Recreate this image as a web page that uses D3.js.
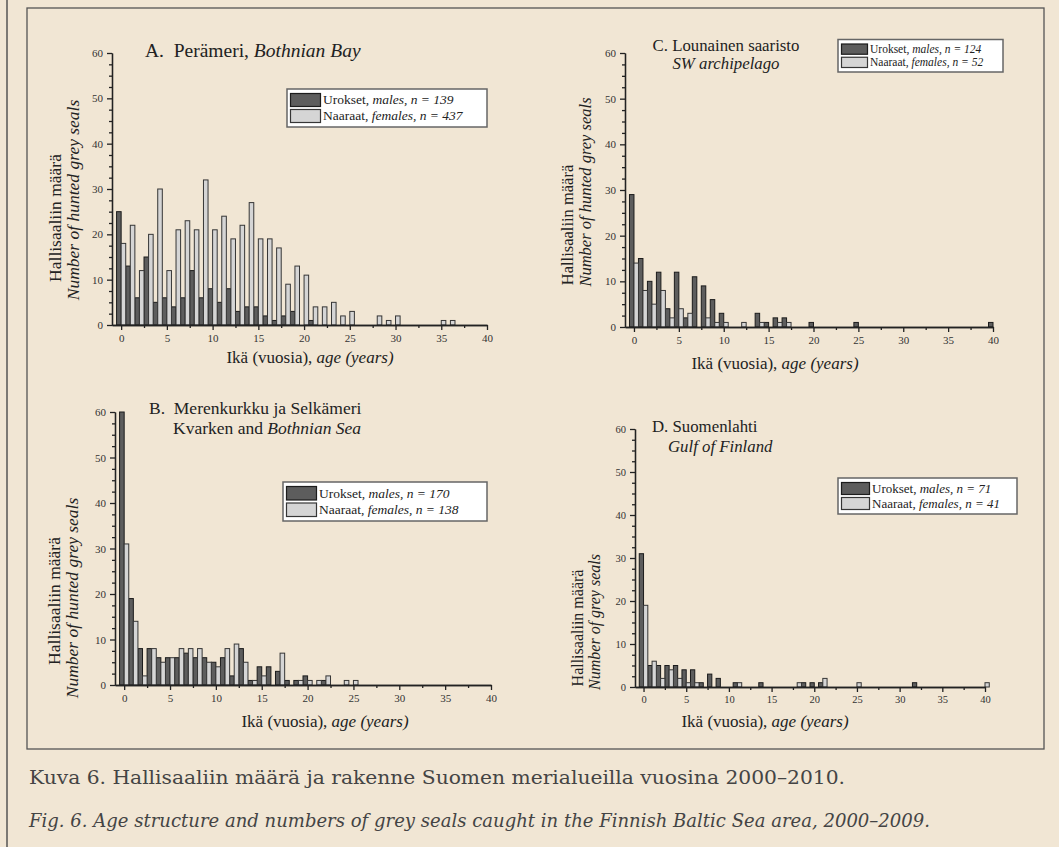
<!DOCTYPE html>
<html>
<head>
<meta charset="utf-8">
<script src="https://cdnjs.cloudflare.com/ajax/libs/d3/7.8.5/d3.min.js"></script>
<style>
  body { margin: 0; background: #f1e6d4; }
  svg { display: block; }
  text { font-family: "Liberation Serif", "Times New Roman", serif; fill: #222; white-space: pre; }
  .axis path, .axis line { stroke: #222; stroke-width: 1.3; }
  .axis text { font-family: "Liberation Serif", serif; fill: #333; }
</style>
</head>
<body>
<script>
'use strict';

// age classes 0..40 years
var ages = [0, 1, 2, 3, 4, 5, 6, 7, 8, 9, 10, 11, 12, 13, 14, 15, 16, 17, 18, 19, 20,
   21, 22, 23, 24, 25, 26, 27, 28, 29, 30, 31, 32, 33, 34, 35, 36, 37, 38, 39, 40];

// A. Perämeri
var malesA = [25, 13, 6, 15, 5, 6, 4, 6, 12, 6, 8, 5, 8, 3, 4, 4, 2, 1, 2, 3, 0,
   1, 0, 0, 0, 0, 0, 0, 0, 0, 0, 0, 0, 0, 0, 0, 0, 0, 0, 0, 0];
var femalesA = [18, 22, 12, 20, 30, 12, 21, 23, 21, 32, 21, 24, 19, 22, 27, 19, 19, 17, 9, 13, 11,
   4, 4, 5, 2, 3, 0, 0, 2, 1, 2, 0, 0, 0, 0, 1, 1, 0, 0, 0, 0];
// B. Merenkurkku ja Selkämeri
var malesB = [60, 19, 8, 8, 6, 6, 6, 7, 6, 6, 5, 6, 2, 8, 1, 4, 4, 3, 1, 1, 2,
   0, 1, 0, 0, 0, 0, 0, 0, 0, 0, 0, 0, 0, 0, 0, 0, 0, 0, 0, 0];
var femalesB = [31, 14, 2, 8, 5, 6, 8, 8, 8, 5, 4, 8, 9, 5, 1, 2, 0, 7, 0, 1, 1,
   1, 2, 0, 1, 1, 0, 0, 0, 0, 0, 0, 0, 0, 0, 0, 0, 0, 0, 0, 0];
// C. Lounainen saaristo
var malesC = [29, 15, 10, 12, 4, 12, 2, 11, 9, 6, 3, 0, 0, 0, 3, 1, 2, 2, 0, 0, 1,
   0, 0, 0, 0, 1, 0, 0, 0, 0, 0, 0, 0, 0, 0, 0, 0, 0, 0, 0, 1];
var femalesC = [14, 8, 5, 8, 2, 4, 3, 0, 2, 1, 1, 0, 1, 0, 1, 0, 1, 1, 0, 0, 0,
   0, 0, 0, 0, 0, 0, 0, 0, 0, 0, 0, 0, 0, 0, 0, 0, 0, 0, 0, 0];
// D. Suomenlahti
var malesD = [31, 5, 5, 5, 5, 4, 4, 1, 3, 2, 0, 1, 0, 0, 1, 0, 0, 0, 0, 1, 1,
   1, 0, 0, 0, 0, 0, 0, 0, 0, 0, 0, 1, 0, 0, 0, 0, 0, 0, 0, 0];
var femalesD = [19, 6, 2, 4, 2, 1, 1, 0, 0, 0, 0, 1, 0, 0, 0, 0, 0, 0, 1, 0, 0,
   2, 0, 0, 0, 1, 0, 0, 0, 0, 0, 0, 0, 0, 0, 0, 0, 0, 0, 0, 1];

var nMales = [139, 170, 124, 71];
var nFemales = [437, 138, 52, 41];

var xTicks = [0, 5, 10, 15, 20, 25, 30, 35, 40];
var xMinor = [2.5, 7.5, 12.5, 17.5, 22.5, 27.5, 32.5, 37.5];
var yTicks = [0, 10, 20, 30, 40, 50, 60];
var yMinor = [2.5, 5, 7.5, 12.5, 15, 17.5, 22.5, 25, 27.5, 32.5, 35, 37.5, 42.5, 45, 47.5, 52.5, 55, 57.5];

var maleFill = '#5d5d5d', maleStroke = '#1c1c1c';
var femaleFill = '#d5d5d5', femaleStroke = '#363636';

var svg = d3.select('body').append('svg').attr('width', 1059).attr('height', 847);
svg.append('rect').attr('width', 1059).attr('height', 847).attr('fill', '#f1e6d4');
svg.append('line').attr('x1', 7).attr('x2', 7).attr('y1', 0).attr('y2', 847)
   .attr('stroke', '#555').attr('stroke-width', 1.5);
svg.append('rect').attr('x', 27).attr('y', 8).attr('width', 1017).attr('height', 741)
   .attr('fill', 'none').attr('stroke', '#555').attr('stroke-width', 1.3);

function addText(g, x, y, fs, parts, anchor) {
   var t = g.append('text').attr('x', x).attr('y', y).style('font-size', fs + 'px')
      .attr('text-anchor', anchor || 'start');
   parts.forEach(function (p) {
      t.append('tspan').text(p[0]).style('font-style', p[1] ? 'italic' : 'normal');
   });
   return t;
}

function drawPanel(p) {
   var g = svg.append('g');
   var x = d3.scaleLinear().domain([-1, 40]).range([p.x0, p.x1]);
   var y = d3.scaleLinear().domain([0, 60]).range([p.y0, p.y1]);
   var rows = ages.map(function (a) { return { age: a, m: p.males[a], f: p.females[a] }; });

   g.selectAll('rect.male').data(rows.filter(function (d) { return d.m > 0; })).enter().append('rect')
      .attr('x', function (d) { return x(d.age - 0.5); })
      .attr('width', function (d) { return x(d.age) - x(d.age - 0.5); })
      .attr('y', function (d) { return y(d.m); })
      .attr('height', function (d) { return y(0) - y(d.m); })
      .attr('fill', maleFill).attr('stroke', maleStroke).attr('stroke-width', 1);
   g.selectAll('rect.female').data(rows.filter(function (d) { return d.f > 0; })).enter().append('rect')
      .attr('x', function (d) { return x(d.age); })
      .attr('width', function (d) { return x(d.age + 0.5) - x(d.age); })
      .attr('y', function (d) { return y(d.f); })
      .attr('height', function (d) { return y(0) - y(d.f); })
      .attr('fill', femaleFill).attr('stroke', femaleStroke).attr('stroke-width', 1);

   g.append('g').attr('class', 'axis').attr('transform', 'translate(0,' + p.y0 + ')')
      .call(d3.axisBottom(x).tickValues(xMinor).tickSize(3).tickSizeOuter(0).tickFormat(''));
   g.append('g').attr('class', 'axis').attr('transform', 'translate(0,' + p.y0 + ')')
      .call(d3.axisBottom(x).tickValues(xTicks).tickSize(5).tickSizeOuter(0).tickPadding(4))
      .selectAll('text').style('font-size', p.tfs + 'px');
   g.append('g').attr('class', 'axis').attr('transform', 'translate(' + p.x0 + ',0)')
      .call(d3.axisLeft(y).tickValues(yMinor).tickSize(3).tickSizeOuter(0).tickFormat(''));
   g.append('g').attr('class', 'axis').attr('transform', 'translate(' + p.x0 + ',0)')
      .call(d3.axisLeft(y).tickValues(yTicks).tickSize(5).tickSizeOuter(0).tickPadding(4))
      .selectAll('text').style('font-size', p.tfs + 'px');

   // titles
   p.title.forEach(function (l) { addText(g, l.x, l.y, p.titleFs, l.parts, p.titleAnchor); });

   // axis labels
   addText(g, p.xlab[0], p.xlab[1], 17, [['Ikä (vuosia), ', false], ['age (years)', true]], 'middle');
   addText(g, 0, 0, p.yfs, [['Hallisaaliin määrä', false]], 'middle')
      .attr('transform', 'translate(' + p.ylabH[0] + ',' + p.ylabH[1] + ')rotate(-90)');
   addText(g, 0, 0, p.yfs, [[p.yText, true]], 'middle')
      .attr('transform', 'translate(' + p.ylabN[0] + ',' + p.ylabN[1] + ')rotate(-90)');

   // legend
   var L = p.legend;
   g.append('rect').attr('x', L.x).attr('y', L.y).attr('width', L.w).attr('height', L.h)
      .attr('fill', '#fff').attr('stroke', '#666').attr('stroke-width', 1.5);
   var rowH = (L.h - 6) / 2;
   var entries = [
      ['Urokset, ', 'males, n = ' + p.nm, maleFill, maleStroke],
      ['Naaraat, ', 'females, n = ' + p.nf, femaleFill, femaleStroke]
   ];
   entries.forEach(function (e, i) {
      var ry = L.y + 3 + i * rowH;
      g.append('rect').attr('x', L.x + 3.5).attr('y', ry + 1.5).attr('width', L.sw).attr('height', rowH - 3)
         .attr('fill', e[2]).attr('stroke', e[3]).attr('stroke-width', 1.2);
      addText(g, L.x + L.sw + 6, ry + rowH * 0.78, L.fs, [[e[0], false], [e[1], true]]);
   });
}

drawPanel({
   x0: 112, x1: 487, y0: 325, y1: 53, tfs: 11,
   males: malesA, females: femalesA, nm: nMales[0], nf: nFemales[0],
   titleFs: 19.5,
   title: [{ x: 145, y: 56.5, parts: [['A.  Perämeri, ', false], ['Bothnian Bay', true]] }],
   xlab: [310, 363], yfs: 17.5, yText: 'Number of hunted grey seals',
   ylabH: [61, 218], ylabN: [79, 200],
   legend: { x: 287, y: 89, w: 200, h: 38, fs: 13.5, sw: 30 }
});

drawPanel({
   x0: 115, x1: 491, y0: 685, y1: 412, tfs: 11,
   males: malesB, females: femalesB, nm: nMales[1], nf: nFemales[1],
   titleFs: 17.5,
   title: [
      { x: 149, y: 413.5, parts: [['B.  Merenkurkku ja Selkämeri', false]] },
      { x: 173, y: 433.5, parts: [['Kvarken and ', false], ['Bothnian Sea', true]] }
   ],
   xlab: [325, 727], yfs: 17.5, yText: 'Number of hunted grey seals',
   ylabH: [60, 601], ylabN: [78, 598],
   legend: { x: 283, y: 482, w: 204, h: 39, fs: 13.5, sw: 30 }
});

drawPanel({
   x0: 625, x1: 993, y0: 327, y1: 53, tfs: 11,
   males: malesC, females: femalesC, nm: nMales[2], nf: nFemales[2],
   titleFs: 16.8, titleAnchor: 'middle',
   title: [
      { x: 726, y: 50.5, parts: [['C. Lounainen saaristo', false]] },
      { x: 726, y: 68.5, parts: [['SW archipelago', true]] }
   ],
   xlab: [775, 369], yfs: 16.5, yText: 'Number of hunted grey seals',
   ylabH: [573, 225], ylabN: [591, 192],
   legend: { x: 838, y: 39.5, w: 165, h: 32.5, fs: 11.5, sw: 26 }
});

drawPanel({
   x0: 635, x1: 985, y0: 687, y1: 429, tfs: 10.5,
   males: malesD, females: femalesD, nm: nMales[3], nf: nFemales[3],
   titleFs: 16.8,
   title: [
      { x: 652, y: 432, parts: [['D. Suomenlahti', false]] },
      { x: 668, y: 452, parts: [['Gulf of Finland', true]] }
   ],
   xlab: [765, 727], yfs: 16, yText: 'Number of grey seals',
   ylabH: [583, 628], ylabN: [600, 622],
   legend: { x: 838, y: 478, w: 179, h: 36, fs: 13, sw: 28 }
});

// caption
svg.append('text').attr('x', 29).attr('y', 784)
   .style('font-family', '"DejaVu Serif", serif').style('font-size', '18.5px').style('fill', '#444')
   .attr('textLength', 816).attr('lengthAdjust', 'spacingAndGlyphs')
   .text('Kuva 6. Hallisaaliin määrä ja rakenne Suomen merialueilla vuosina 2000–2010.');
svg.append('text').attr('x', 29).attr('y', 827)
   .style('font-family', '"DejaVu Serif", serif').style('font-size', '18.5px').style('fill', '#444')
   .style('font-style', 'italic')
   .attr('textLength', 901).attr('lengthAdjust', 'spacingAndGlyphs')
   .text('Fig. 6. Age structure and numbers of grey seals caught in the Finnish Baltic Sea area, 2000–2009.');
</script>
</body>
</html>
